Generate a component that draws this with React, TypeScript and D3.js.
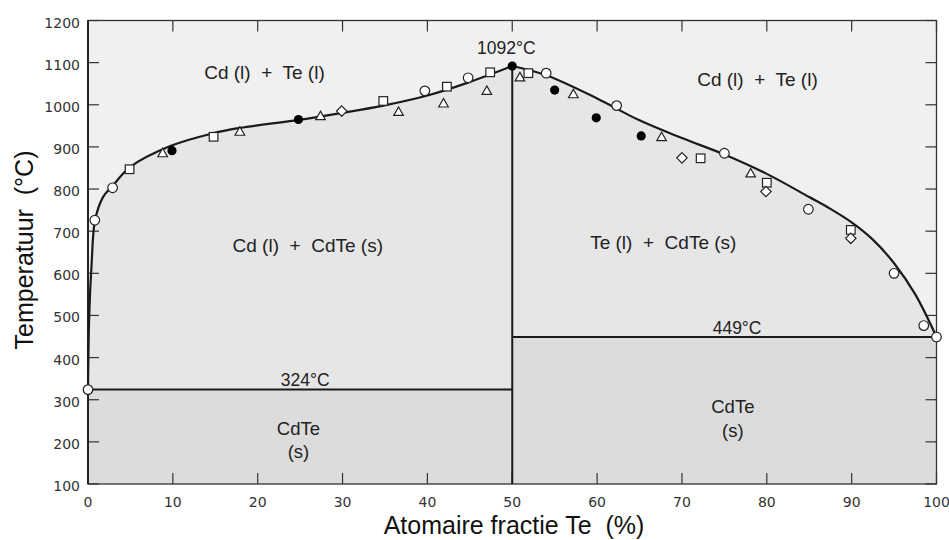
import React from "react";
import * as d3 from "d3";

// ---- data ----
const xTicks = [0, 10, 20, 30, 40, 50, 60, 70, 80, 90, 100];
const yTicks = [100, 200, 300, 400, 500, 600, 700, 800, 900, 1000, 1100, 1200];

const liquidusLeft: [number, number][] = [
  [0, 324], [0.15, 505], [0.43, 624], [0.83, 726], [1.8, 782], [3, 810], [4.95, 852],
  [9.7, 902], [14.7, 932], [17.9, 945], [24.8, 964], [29.7, 980], [34.8, 998],
  [40, 1022], [44.7, 1052], [50, 1092],
];
const liquidusRight: [number, number][] = [
  [50, 1092], [54, 1070], [60, 1015], [65, 963], [70, 921], [75, 882], [80, 836],
  [85, 781], [87.5, 753], [90, 721], [92.5, 680], [95, 624], [97.5, 550], [100, 449],
];
const eutecticLeft = 324;
const eutecticRight = 449;
const peakT = 1092;

const openCircles: [number, number][] = [
  [0, 324], [0.8, 726], [2.9, 803], [39.7, 1033], [44.8, 1064], [54.0, 1075], [62.3, 998],
  [75.0, 885], [84.9, 752], [95.0, 600], [98.5, 476], [100, 449],
];
const filledCircles: [number, number][] = [
  [9.9, 891], [24.8, 965], [50, 1092], [55.0, 1035], [59.9, 969], [65.2, 926],
];
const squares: [number, number][] = [
  [4.9, 847], [14.8, 924], [34.8, 1009], [42.3, 1043], [47.4, 1077], [51.9, 1075],
  [72.2, 873], [80, 815], [89.9, 703],
];
const triangles: [number, number][] = [
  [8.8, 885], [17.9, 936], [27.4, 973], [36.6, 983], [41.9, 1003], [47.0, 1033],
  [50.9, 1065], [57.2, 1025], [67.6, 923], [78.1, 837],
];
const diamonds: [number, number][] = [
  [29.9, 985], [70.0, 874], [79.9, 794], [89.9, 683],
];

const regionLabels = [
  { text: "Cd (l)  +  Te (l)", x: 20.8, t: 1076 },
  { text: "Cd (l)  +  Te (l)", x: 78.9, t: 1061 },
  { text: "Cd (l)  +  CdTe (s)", x: 25.9, t: 666 },
  { text: "Te (l)  +  CdTe (s)", x: 67.8, t: 674 },
];
const tempLabels = [
  { text: "1092°C", x: 49.3, t: 1134 },
  { text: "324°C", x: 25.6, t: 347 },
  { text: "449°C", x: 76.5, t: 470 },
];
const solidLabels = [
  { text: "CdTe", x: 24.8, t: 231 },
  { text: "(s)", x: 24.8, t: 176 },
  { text: "CdTe", x: 76.0, t: 285 },
  { text: "(s)", x: 76.0, t: 228 },
];

const W = 949;
const H = 540;
const x = d3.scaleLinear().domain([0, 100]).range([88, 936.5]);
const y = d3.scaleLinear().domain([100, 1200]).range([484, 20.5]);

const lineGen = d3
  .line<[number, number]>()
  .x((d) => x(d[0]))
  .y((d) => y(d[1]))
  .curve(d3.curveCatmullRom.alpha(0.5));

export default function App() {
  const x0 = x(0), x50 = x(50), x100 = x(100);
  const yTop = y(1200), yBot = y(100);

  const leftPath = lineGen(liquidusLeft) as string;
  const rightPath = lineGen(liquidusRight) as string;
  const midPath =
    leftPath +
    "L" + rightPath.slice(1) +
    `L${x100},${y(eutecticRight)}L${x50},${y(eutecticRight)}L${x50},${y(eutecticLeft)}L${x0},${y(eutecticLeft)}Z`;

  const labelFont = "'Liberation Sans', Arial, Helvetica, sans-serif";
  const tickFont = "'DejaVu Sans', Verdana, sans-serif";
  const ink = "#1a1a1a";
  const mk = { stroke: "#222", strokeWidth: 1.2, fill: "#fff" };

  return (
    <svg
      width={W}
      height={H}
      style={{ position: "absolute", left: 0, top: 0, background: "#fff" }}
    >
      {/* regions */}
      <rect x={x0} y={yTop} width={x100 - x0} height={yBot - yTop} fill="#f0f0f0" />
      <path d={midPath} fill="#e6e6e6" />
      <rect x={x0} y={y(eutecticLeft)} width={x50 - x0} height={yBot - y(eutecticLeft)} fill="#dcdcdc" />
      <rect x={x50} y={y(eutecticRight)} width={x100 - x50} height={yBot - y(eutecticRight)} fill="#dcdcdc" />

      {/* ticks */}
      {yTicks.map((t) => (
        <g key={"yt" + t}>
          <line x1={x0} x2={x0 + 11} y1={y(t)} y2={y(t)} stroke="#333" strokeWidth={1.2} />
          <line x1={x100} x2={x100 - 11} y1={y(t)} y2={y(t)} stroke="#333" strokeWidth={1.2} />
          <text
            x={80}
            y={y(t) + 7}
            textAnchor="end"
            fontFamily={tickFont}
            fontSize={14}
            fill="#333"
          >
            {t}
          </text>
        </g>
      ))}
      {xTicks.map((v) => (
        <g key={"xt" + v}>
          <line x1={x(v)} x2={x(v)} y1={yBot} y2={yBot - 11} stroke="#333" strokeWidth={1.2} />
          <line x1={x(v)} x2={x(v)} y1={yTop} y2={yTop + 11} stroke="#333" strokeWidth={1.2} />
          <text
            x={x(v)}
            y={507}
            textAnchor="middle"
            fontFamily={tickFont}
            fontSize={14}
            fill="#333"
          >
            {v}
          </text>
        </g>
      ))}

      {/* frame */}
      <rect x={x0} y={yTop} width={x100 - x0} height={yBot - yTop} fill="none" stroke="#333" strokeWidth={1.3} />
      <line x1={x0} x2={x0} y1={yTop} y2={yBot} stroke="#222" strokeWidth={2} />

      {/* phase boundaries */}
      <line x1={x0} x2={x50} y1={y(eutecticLeft)} y2={y(eutecticLeft)} stroke={ink} strokeWidth={2} />
      <line x1={x50} x2={x100} y1={y(eutecticRight)} y2={y(eutecticRight)} stroke={ink} strokeWidth={2} />
      <line x1={x50} x2={x50} y1={yBot} y2={y(peakT)} stroke={ink} strokeWidth={2} />
      <path d={leftPath} fill="none" stroke={ink} strokeWidth={2.2} />
      <path d={rightPath} fill="none" stroke={ink} strokeWidth={2.2} />

      {/* markers */}
      {openCircles.map((d, i) => (
        <circle key={"oc" + i} cx={x(d[0])} cy={y(d[1])} r={4.8} {...mk} />
      ))}
      {filledCircles.map((d, i) => (
        <circle key={"fc" + i} cx={x(d[0])} cy={y(d[1])} r={4.6} fill="#000" />
      ))}
      {squares.map((d, i) => (
        <rect key={"sq" + i} x={x(d[0]) - 4.3} y={y(d[1]) - 4.3} width={8.6} height={8.6} {...mk} />
      ))}
      {triangles.map((d, i) => {
        const cx = x(d[0]), cy = y(d[1]);
        return (
          <path key={"tr" + i} d={`M${cx},${cy - 5}L${cx + 4.8},${cy + 3.5}L${cx - 4.8},${cy + 3.5}Z`} {...mk} />
        );
      })}
      {diamonds.map((d, i) => {
        const cx = x(d[0]), cy = y(d[1]);
        return (
          <path key={"dm" + i} d={`M${cx},${cy - 5.2}L${cx + 5.2},${cy}L${cx},${cy + 5.2}L${cx - 5.2},${cy}Z`} {...mk} />
        );
      })}

      {/* labels */}
      {regionLabels.map((l, i) => (
        <text
          key={"rl" + i}
          x={x(l.x)}
          y={y(l.t)}
          textAnchor="middle"
          dominantBaseline="central"
          fontFamily={labelFont}
          fontSize={19}
          fill="#222"
          style={{ whiteSpace: "pre" }}
        >
          {l.text}
        </text>
      ))}
      {tempLabels.map((l, i) => (
        <text
          key={"tl" + i}
          x={x(l.x)}
          y={y(l.t)}
          textAnchor="middle"
          dominantBaseline="central"
          fontFamily={labelFont}
          fontSize={17.5}
          fill="#222"
        >
          {l.text}
        </text>
      ))}
      {solidLabels.map((l, i) => (
        <text
          key={"sl" + i}
          x={x(l.x)}
          y={y(l.t)}
          textAnchor="middle"
          dominantBaseline="central"
          fontFamily={labelFont}
          fontSize={18.5}
          fill="#222"
        >
          {l.text}
        </text>
      ))}

      {/* axis titles */}
      <text
        x={514}
        y={534}
        textAnchor="middle"
        fontFamily={labelFont}
        fontSize={25}
        fill="#111"
        style={{ whiteSpace: "pre" }}
      >
        {"Atomaire fractie Te  (%)"}
      </text>
      <text
        transform="translate(33,250) rotate(-90)"
        textAnchor="middle"
        fontFamily={labelFont}
        fontSize={25}
        fill="#111"
        style={{ whiteSpace: "pre" }}
      >
        {"Temperatuur  (°C)"}
      </text>
    </svg>
  );
}
